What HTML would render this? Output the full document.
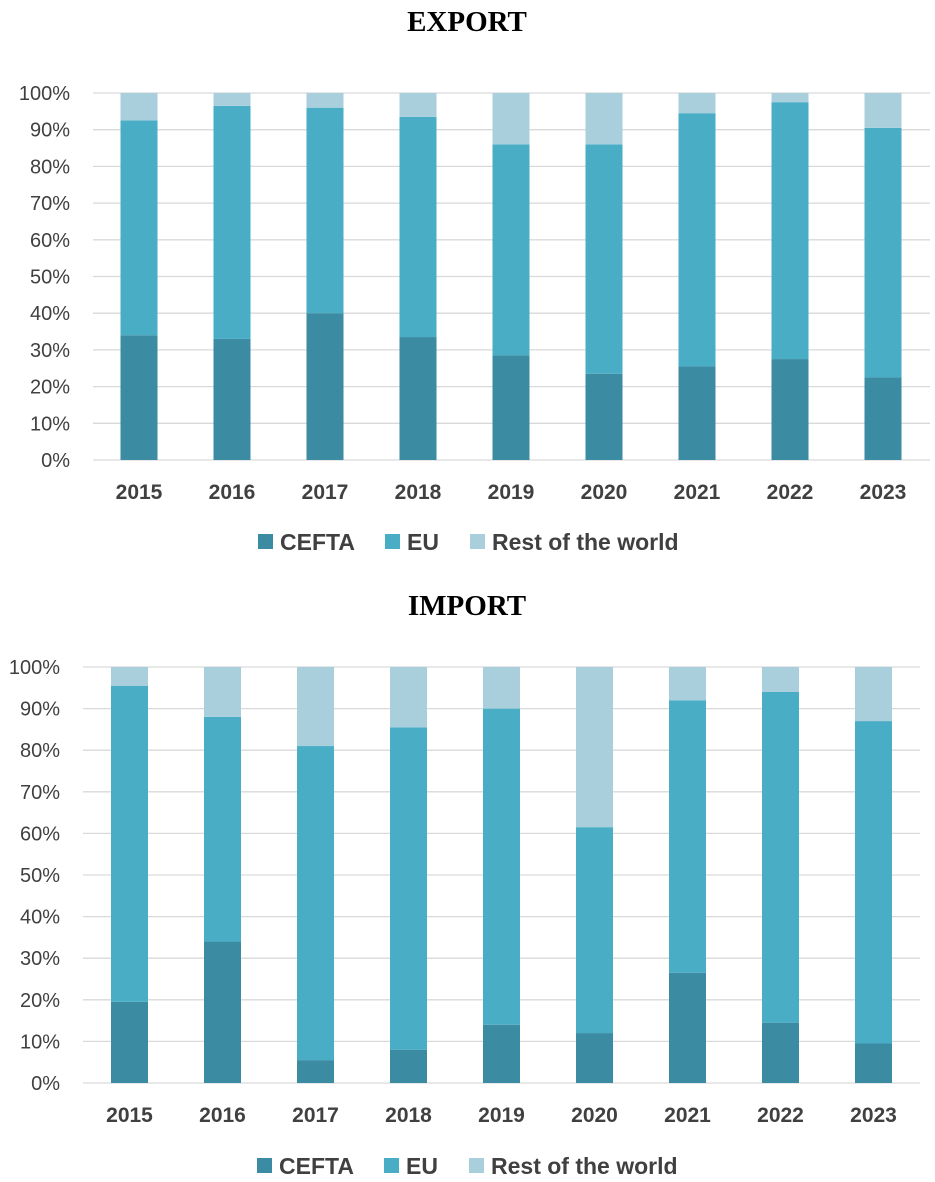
<!DOCTYPE html>
<html><head><meta charset="utf-8"><style>
html,body{margin:0;padding:0;background:#fff;}
svg{display:block;}
.tick{font-family:"Liberation Sans",sans-serif;font-size:20px;fill:#404040;}
.year{font-family:"Liberation Sans",sans-serif;font-size:21px;font-weight:bold;fill:#404040;}
.leg{font-family:"Liberation Sans",sans-serif;font-size:23px;font-weight:bold;fill:#404040;}
.title{font-family:"Liberation Serif",serif;font-size:29px;font-weight:bold;fill:#000;}
</style></head><body>
<svg id="chart" width="935" height="1182"></svg>
<script>
const years = ["2015","2016","2017","2018","2019","2020","2021","2022","2023"];
const exportCefta = [34, 33, 40, 33.5, 28.5, 23.5, 25.5, 27.5, 22.5];
const exportEu = [58.5, 63.5, 56, 60, 57.5, 62.5, 69, 70, 68];
const exportRest = [7.5, 3.5, 4, 6.5, 14, 14, 5.5, 2.5, 9.5];
const importCefta = [19.5, 34, 5.5, 8, 14, 12, 26.5, 14.5, 9.5];
const importEu = [76, 54, 75.5, 77.5, 76, 49.5, 65.5, 79.5, 77.5];
const importRest = [4.5, 12, 19, 14.5, 10, 38.5, 8, 6, 13];
const tickLabels = ["0%","10%","20%","30%","40%","50%","60%","70%","80%","90%","100%"];
const legendLabels = ["CEFTA","EU","Rest of the world"];

const NS="http://www.w3.org/2000/svg";
const svg=document.getElementById('chart');
const colors=["#3b8ba3","#4aadc6","#a9cfdd"];
function mk(tag,attrs,parent){const e=document.createElementNS(NS,tag);for(const k in attrs)e.setAttribute(k,attrs[k]);(parent||svg).appendChild(e);return e;}

function drawChart(name,title,titleY,y0,y100,gx0,gx1,firstX,labelRight,yearY,legY,legX,series){
  const g=mk('g',{});
  
  
  const yScale=v=>y0-(y0-y100)*v/100;
  const xScale=i=>firstX+i*93;
  const t=mk('text',{x:467,y:titleY,'text-anchor':'middle',class:'title'},g);
  t.textContent=title;
  
  
  tickLabels.forEach((lab,i)=>{
    const v=i*10;
    const ln=mk('line',{x1:gx0,x2:gx1,y1:yScale(v),y2:yScale(v),stroke:'#d9d9d9','stroke-width':1.3},g);
    
    
    const tx=mk('text',{x:labelRight,y:yScale(v)+7,'text-anchor':'end',class:'tick'},g);
    tx.textContent=lab;
    
    
  });
  years.forEach((yr,i)=>{
    let base=0;
    series.forEach((s,si)=>{
      const v=s[i];
      const r=mk('rect',{x:xScale(i)-18.5,y:yScale(base+v),width:37,height:yScale(base)-yScale(base+v),fill:colors[si]},g);
      
      
      base+=v;
    });
    const tx=mk('text',{x:xScale(i),y:yearY,'text-anchor':'middle',class:'year'},g);
    tx.textContent=yr;
    
    
  });
  const offs=[0,127,212];
  legendLabels.forEach((lab,i)=>{
    const lx=legX+offs[i];
    const sq=mk('rect',{x:lx,y:legY-8,width:15,height:15,fill:colors[i]},g);
    
    
    const tx=mk('text',{x:lx+22,y:legY+8,class:'leg'},g);
    tx.textContent=lab;
    
    
  });
}
drawChart('export','EXPORT',31,460,93,93,930,139,70,499,542,258,[exportCefta,exportEu,exportRest]);
drawChart('import','IMPORT',615,1083,667,83,920,129.5,60,1122,1166,257,[importCefta,importEu,importRest]);
</script>
</body></html>
